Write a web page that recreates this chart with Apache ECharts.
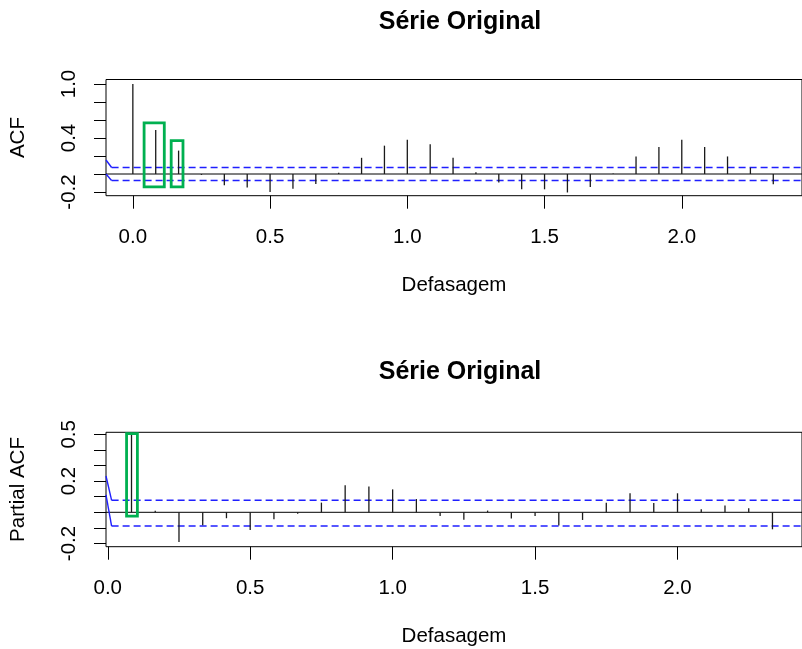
<!DOCTYPE html>
<html>
<head>
<meta charset="utf-8">
<script src="https://cdn.jsdelivr.net/npm/echarts@6/dist/echarts.min.js"></script>
<style>
  html, body { margin: 0; padding: 0; background: #fff; }
  #chart { width: 802px; height: 649px; }
</style>
</head>
<body>
<div id="chart"></div>
<script>
// frequencia mensal -> defasagem em anos
const freq = 12

// ACF, defasagens 0..28
const acfValues = [1.0, 0.49, 0.26, -0.01, -0.125, -0.15, -0.2, -0.165, -0.11, 0.015,
  0.18, 0.315, 0.38, 0.33, 0.18, 0.02, -0.095, -0.17, -0.17, -0.205,
  -0.145, 0.005, 0.195, 0.30, 0.38, 0.30, 0.195, 0.07, -0.115]

// PACF, defasagens 1..28
const pacfValues = [0.5, 0.01, -0.19, -0.083, -0.038, -0.113, -0.045, -0.01, 0.062, 0.173,
  0.165, 0.147, 0.085, -0.024, -0.047, 0.011, -0.04, -0.024, -0.085, -0.049,
  0.062, 0.122, 0.06, 0.122, 0.02, 0.043, 0.026, -0.109]

// limites de confianca
const acfBand = [0.072, -0.072]
const pacfBand = [0.077, -0.088]
// trecho inicial (solido) dos limites: [x0, y0, x1, y1]
const acfBandStart = [[-0.0978, 0.156, -0.0774, 0.072], [-0.0978, 0.0, -0.0774, -0.072]]
const pacfBandStart = [[-0.0062, 0.233, 0.0135, 0.077], [-0.0062, 0.111, 0.0135, -0.088]]

// destaques verdes: [x0, x1, y0, y1]
const acfBoxes = [[0.041, 0.1146, -0.144, 0.567], [0.1397, 0.1827, -0.144, 0.37]]
const pacfBoxes = [[0.066, 0.104, -0.024, 0.504]]

const xTicks = [0, 0.5, 1, 1.5, 2]
const acfYTicks = [-0.2, 0, 0.2, 0.4, 0.6, 0.8, 1.0]
const acfYLabels = [-0.2, 0.4, 1.0]
const pacfYTicks = [-0.2, -0.1, 0, 0.1, 0.2, 0.3, 0.4, 0.5]
const pacfYLabels = [-0.2, 0.2, 0.5]

const acfX = [-0.0978, 2.438]
const pacfX = [-0.0062, 2.437]

const font = '"Liberation Sans", Arial, Helvetica, sans-serif'
const fs = 20.5
const blue = '#1f1fff'
const green = '#00b050'

const acfData = acfValues.map((v, i) => [i / freq, v])
const pacfData = pacfValues.map((v, i) => [(i + 1) / freq, v])

const chart = echarts.init(document.getElementById('chart'))

const fmt = v => (Math.round(v * 10) / 10).toFixed(1)

function xAxisFor(idx, range) {
  return {
    type: 'value',
    gridIndex: idx,
    min: range[0],
    max: range[1],
    axisLine: { show: false, onZero: false },
    axisTick: { show: true, customValues: xTicks, length: 13, lineStyle: { color: '#000', width: 1 } },
    axisLabel: { customValues: xTicks, formatter: fmt, color: '#000', fontSize: fs, fontFamily: font, margin: 31 },
    splitLine: { show: false },
    name: 'Defasagem',
    nameLocation: 'middle',
    nameGap: 79,
    nameTextStyle: { color: '#000', fontSize: fs, fontFamily: font }
  }
}

function yAxisFor(idx, range, ticks, labels, name) {
  return {
    type: 'value',
    gridIndex: idx,
    min: range[0],
    max: range[1],
    axisLine: { show: false, onZero: false },
    axisTick: { show: true, customValues: ticks, length: 12, lineStyle: { color: '#000', width: 1 } },
    axisLabel: { customValues: labels, formatter: fmt, rotate: 90, color: '#000', fontSize: fs, fontFamily: font, margin: 26 },
    splitLine: { show: false },
    name: name,
    nameLocation: 'middle',
    nameGap: 77,
    nameTextStyle: { color: '#000', fontSize: fs, fontFamily: font }
  }
}

function spikes(idx, data) {
  return {
    type: 'custom',
    xAxisIndex: idx,
    yAxisIndex: idx,
    data: data,
    renderItem: (params, api) => {
      const p0 = api.coord([api.value(0), 0])
      const p1 = api.coord([api.value(0), api.value(1)])
      return {
        type: 'line',
        shape: { x1: p0[0], y1: p0[1], x2: p1[0], y2: p1[1] },
        style: { stroke: '#1a1a1a', lineWidth: 1.3 }
      }
    },
    z: 3
  }
}

function boxes(idx, data) {
  return {
    type: 'custom',
    xAxisIndex: idx,
    yAxisIndex: idx,
    data: data,
    renderItem: (params, api) => {
      const a = api.coord([api.value(0), api.value(3)])
      const b = api.coord([api.value(1), api.value(2)])
      return {
        type: 'rect',
        shape: { x: a[0], y: a[1], width: b[0] - a[0], height: b[1] - a[1] },
        style: { fill: null, stroke: green, lineWidth: 2.8 }
      }
    },
    z: 5
  }
}

function hline(idx, x0, x1, y, color, dashed) {
  return {
    type: 'line',
    xAxisIndex: idx,
    yAxisIndex: idx,
    data: [[x0, y], [x1, y]],
    symbol: 'none',
    silent: true,
    lineStyle: { color: color, width: dashed ? 1.4 : 1, type: dashed ? [7, 4] : 'solid' },
    z: 2
  }
}

function segment(idx, s) {
  return {
    type: 'line',
    xAxisIndex: idx,
    yAxisIndex: idx,
    data: [[s[0], s[1]], [s[2], s[3]]],
    symbol: 'none',
    silent: true,
    lineStyle: { color: blue, width: 1.4 },
    z: 2
  }
}

const option = {
  animation: false,
  backgroundColor: '#fff',
  graphic: [
    { type: 'text', x: 460, y: 22, style: { text: 'Série Original', textAlign: 'center', textVerticalAlign: 'middle', font: 'bold 25px ' + font, fill: '#000' } },
    { type: 'text', x: 460, y: 372, style: { text: 'Série Original', textAlign: 'center', textVerticalAlign: 'middle', font: 'bold 25px ' + font, fill: '#000' } }
  ],
  grid: [
    { left: 106, top: 79.5, width: 708, height: 116.2, show: true, borderColor: '#000', borderWidth: 1, backgroundColor: 'transparent' },
    { left: 106, top: 432.3, width: 708, height: 114.4, show: true, borderColor: '#000', borderWidth: 1, backgroundColor: 'transparent' }
  ],
  xAxis: [xAxisFor(0, acfX), xAxisFor(1, pacfX)],
  yAxis: [
    yAxisFor(0, [-0.241, 1.05], acfYTicks, acfYLabels, 'ACF'),
    yAxisFor(1, [-0.2205, 0.513], pacfYTicks, pacfYLabels, 'Partial ACF')
  ],
  series: [
    hline(0, acfX[0], acfX[1], 0, '#000', false),
    hline(0, acfBandStart[0][2], acfX[1], acfBand[0], blue, true),
    hline(0, acfBandStart[1][2], acfX[1], acfBand[1], blue, true),
    segment(0, acfBandStart[0]),
    segment(0, acfBandStart[1]),
    spikes(0, acfData),
    boxes(0, acfBoxes),

    hline(1, pacfX[0], pacfX[1], 0, '#000', false),
    hline(1, pacfBandStart[0][2], pacfX[1], pacfBand[0], blue, true),
    hline(1, pacfBandStart[1][2], pacfX[1], pacfBand[1], blue, true),
    segment(1, pacfBandStart[0]),
    segment(1, pacfBandStart[1]),
    spikes(1, pacfData),
    boxes(1, pacfBoxes)
  ]
}

chart.setOption(option)
</script>
</body>
</html>
